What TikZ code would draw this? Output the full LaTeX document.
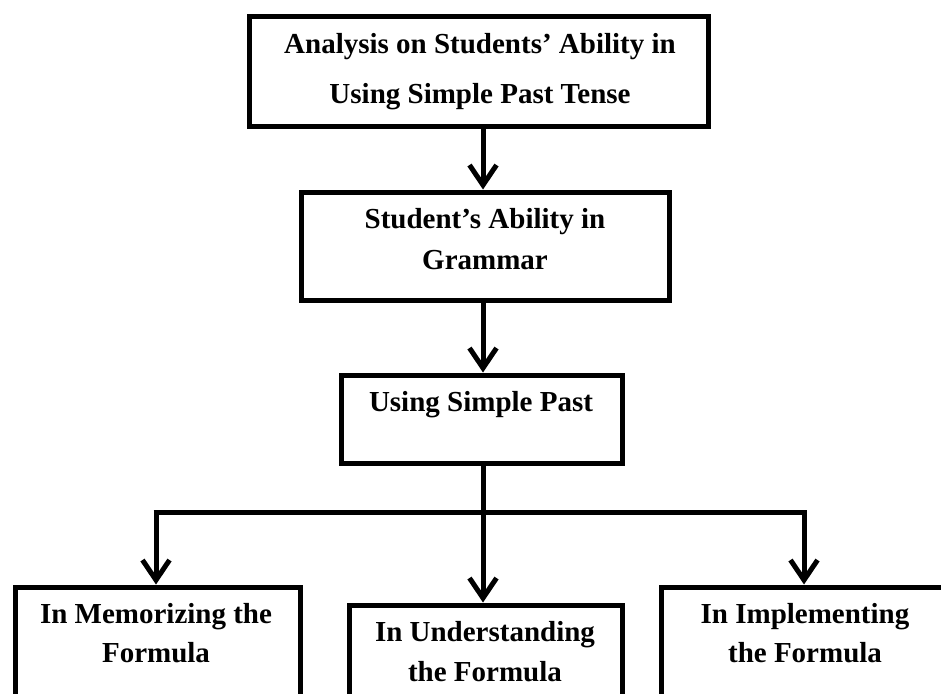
\documentclass[tikz,border=0pt]{standalone}
\usepackage{fontspec}
\setmainfont{Liberation Serif}
\usetikzlibrary{arrows.meta}
\begin{document}
\begin{tikzpicture}[x=1pt,y=-1pt,
  box/.style={draw=black,line width=5pt,inner sep=0pt},
  lbl/.style={font=\fontsize{29}{29}\selectfont\bfseries,align=center,inner sep=0pt},
  conn/.style={line width=5pt,-{Straight Barb[length=20pt,width=27pt,line width=5pt]}},
  line/.style={line width=5pt}]
\useasboundingbox (0,0) rectangle (941,693);
\clip (0,0) rectangle (941,693);
% boxes
\node[box,minimum width=459pt,minimum height=109pt] (top) at (478.5,71.5) {};
\node[box,minimum width=368pt,minimum height=108pt] (mid) at (485,246) {};
\node[box,minimum width=281pt,minimum height=88pt] (usp) at (481.5,419) {};
\node[box,minimum width=285pt,minimum height=200pt] (memo) at (157.5,687) {};
\node[box,minimum width=273pt,minimum height=200pt] (unde) at (485.5,705) {};
\node[box,minimum width=300pt,minimum height=200pt] (impl) at (811,687) {};
% texts
\node[lbl] (t1) at (480,47) {Analysis on Students’ Ability in};
\node[lbl] (t2) at (480,97) {Using Simple Past Tense};
\node[lbl] (t3) at (485,222) {Student’s Ability in};
\node[lbl] (t4) at (485,260) {Grammar};
\node[lbl] (t5) at (481,405) {Using Simple Past};
\node[lbl] (t6) at (156,617) {In Memorizing the};
\node[lbl] (t7) at (156,653) {Formula};
\node[lbl] (t8) at (485,635) {In Understanding};
\node[lbl] (t9) at (485,672) {the Formula};
\node[lbl] (t10) at (805,617) {In Implementing};
\node[lbl] (t11) at (805,653) {the Formula};
% connectors
\coordinate (bar) at (483,512);
\coordinate (barL) at (156,512);
\coordinate (barR) at (804,512);
\draw[conn] (top.south -| bar) -- (mid.north -| bar);
\draw[conn] (mid.south -| bar) -- (usp.north -| bar);
\draw[conn] (usp.south -| bar) -- (unde.north -| bar);
\draw[line] ([xshift=-2.5pt]barL) -- ([xshift=2.5pt]barR);
\draw[conn] ([yshift=-2.5pt]barL) -- (memo.north -| barL);
\draw[conn] ([yshift=-2.5pt]barR) -- (impl.north -| barR);
\end{tikzpicture}
\end{document}
